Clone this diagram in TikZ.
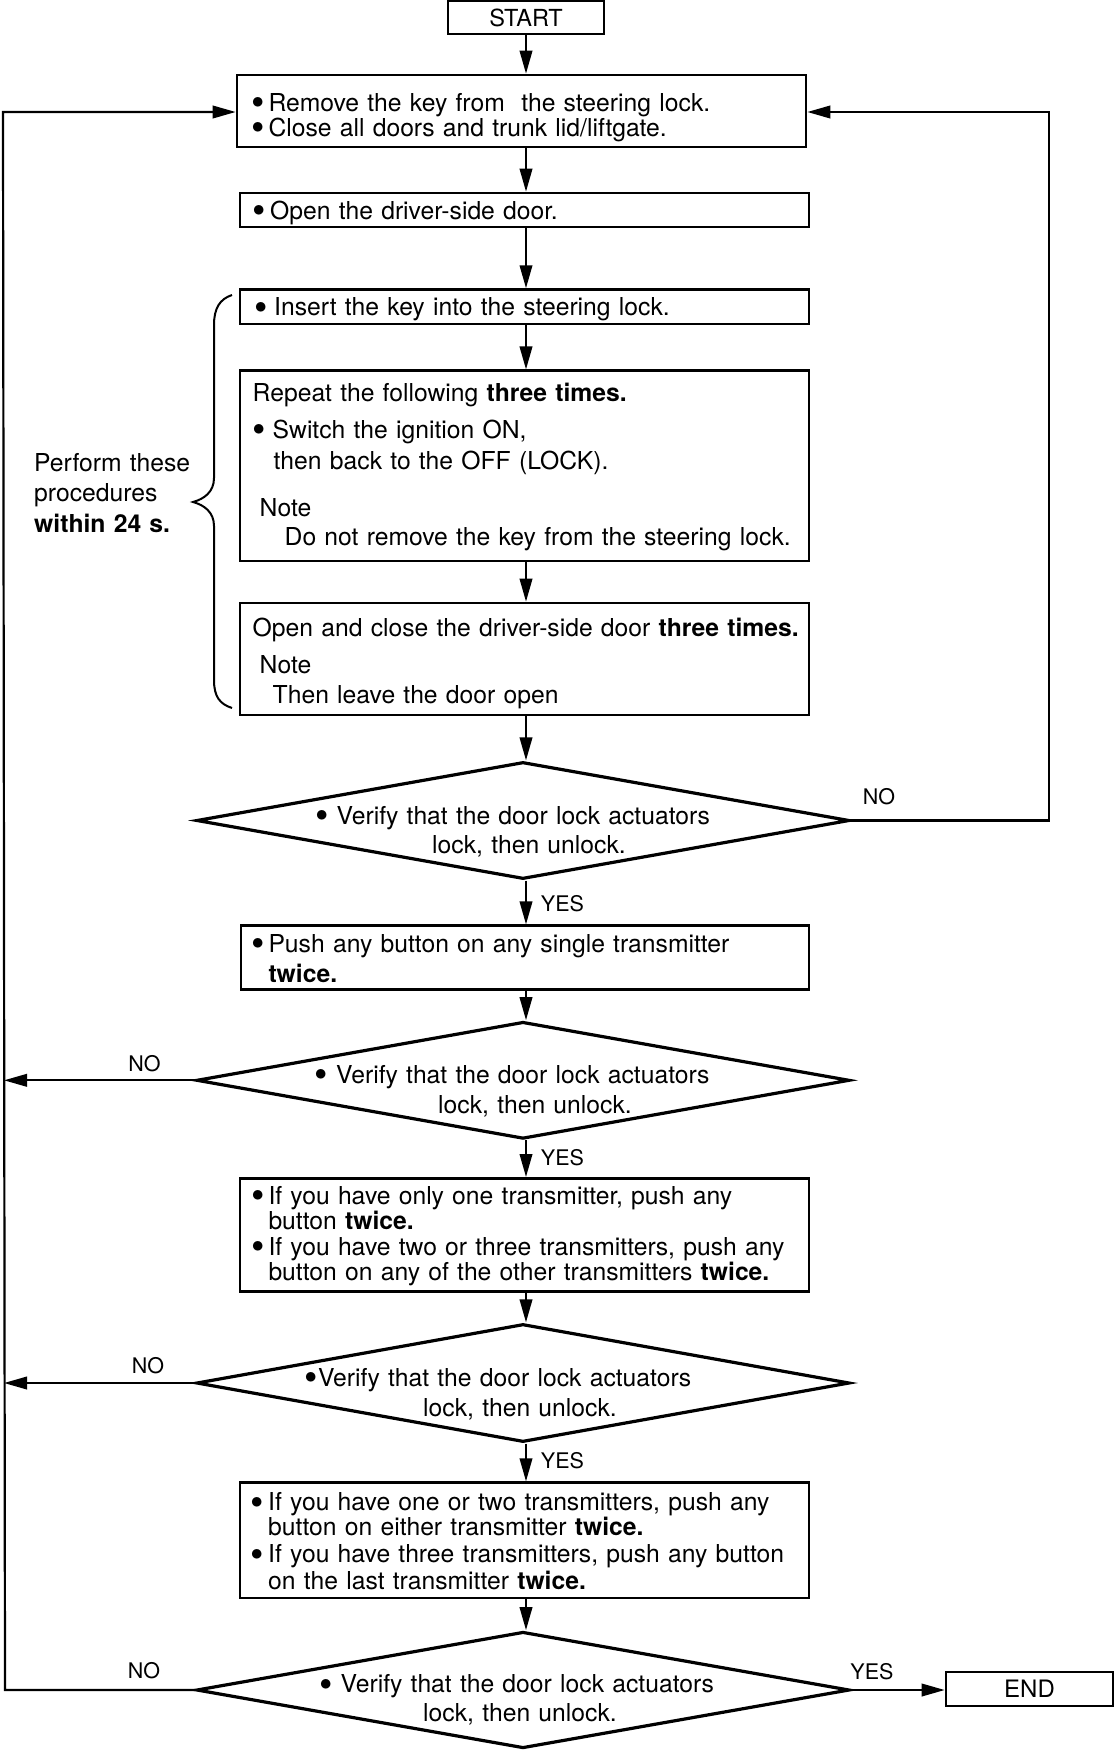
\documentclass[tikz,border=0pt]{standalone}
\usepackage{fontspec}
\usepackage{graphicx}
\setmainfont{TeX Gyre Heros}
\usetikzlibrary{shapes.geometric,arrows.meta}
\newcommand{\bdot}{\smash{\raisebox{-4.4pt}{\scalebox{1.55}{•}}}}
\newcommand{\bu}{\makebox[17.5pt][l]{\bdot}}
\newcommand{\bw}{\makebox[20pt][l]{\bdot}}
\begin{document}
\begin{tikzpicture}[x=1pt,y=-1pt,
  frame/.style={draw, line width=2.6pt, rectangle, inner sep=0pt, minimum width=569pt},
  dia/.style={draw, line width=3.2pt, diamond, inner sep=0pt, minimum width=653pt, minimum height=117pt},
  txt/.style={anchor=base west, inner sep=0pt, text width=600pt, align=left, font=\fontsize{24.7}{25}\selectfont},
  dtxt/.style={anchor=base, inner sep=0pt, text width=560pt, align=center, font=\fontsize{24.7}{25}\selectfont},
  lbl/.style={inner sep=0pt, font=\fontsize{21.5}{22}\selectfont},
  arr/.style={line width=2.2pt, -{Triangle[length=23pt,width=12.5pt]}},
  brace/.style={line width=2pt},
]
\useasboundingbox (0,0) rectangle (1114,1751);

% boxes and text
\node[frame, minimum width=156pt, minimum height=33pt, font=\fontsize{23.5}{24}\selectfont] (st) at (526,17.5) {START};

\node[frame, minimum height=72pt] (b1) at (521.5,111) {};
\node[txt] (t1) at (250.8,111) {\bu Remove the key from\ \ the steering lock.\\ \bu Close all doors and trunk lid/liftgate.};

\node[frame, minimum height=34pt] (b2) at (524.5,210) {};
\node[txt] (t2) at (252.5,219.5) {\bu Open the driver-side door.};

\node[frame, minimum height=34.5pt] (b3) at (524.5,306.8) {};
\node[txt] (t3) at (254,315.7) {\bw Insert the key into the steering lock.};

\node[frame, minimum height=190.3pt] (b4) at (524.5,465.9) {};
\node[txt] (t4) at (252.5,401.7) {Repeat the following \textbf{three times.}\\[11.6pt]
\bw Switch the ignition ON,\\[5.7pt]
\hspace*{21pt}then back to the OFF (LOCK).\\[22pt]
\hspace*{7pt}Note\\[4.7pt]
\hspace*{32pt}Do not remove the key from the steering lock.};

\node[frame, minimum height=112pt] (b5) at (524.5,659) {};
\node[txt] (t5) at (252.5,636) {Open and close the driver-side door \textbf{three times.}\\[12.3pt]
\hspace*{7pt}Note\\[5pt]
\hspace*{20pt}Then leave the door open};

\node[dia] (d1) at (523,820.5) {};
\node[dtxt] (dt1) at (529,824) {\bdot\ Verify that the door lock actuators\hbox to 33pt{}\\[4.5pt] lock, then unlock.};

\node[frame, minimum width=568pt, minimum height=63.6pt] (b6) at (525,957.5) {};
\node[txt] (t6) at (250.8,952.3) {\bu Push any button on any single transmitter\\[5pt]
\hspace*{17.5pt}\textbf{twice.}};

\node[dia] (d2) at (523,1080.3) {};
\node[dtxt] (dt2) at (535,1083.3) {\bdot\ Verify that the door lock actuators\hbox to 46pt{}\\[5pt] lock, then unlock.};

\node[frame, minimum height=113.4pt] (b7) at (524.5,1235) {};
\node[txt] (t7) at (250.8,1204) {\bu If you have only one transmitter, push any\\
\hspace*{17.5pt}button \textbf{twice.}\\[1pt]
\bu If you have two or three transmitters, push any\\
\hspace*{17.5pt}button on any of the other transmitters \textbf{twice.}};

\node[dia, minimum height=118pt] (d3) at (523,1383) {};
\node[dtxt] (dt3) at (520,1386) {\bdot Verify that the door lock actuators\hbox to 44pt{}\\[5.7pt] lock, then unlock.};

\node[frame, minimum height=115.3pt] (b8) at (524.5,1540.3) {};
\node[txt] (t8) at (250.5,1510.7) {\bu If you have one or two transmitters, push any\\
\hspace*{17.5pt}button on either transmitter \textbf{twice.}\\[2pt]
\bu If you have three transmitters, push any button\\[1.3pt]
\hspace*{17.5pt}on the last transmitter \textbf{twice.}};

\node[dia, minimum height=116.5pt] (d4) at (523,1690) {};
\node[dtxt] (dt4) at (520,1692.7) {\bdot\ Verify that the door lock actuators\hbox to 7pt{}\\[4pt] lock, then unlock.};

\node[frame, minimum width=167pt, minimum height=34pt, font=\fontsize{24}{25}\selectfont] (en) at (1029.5,1689) {END};

% brace note
\node[txt] (pt) at (34,471.7) {Perform these\\[5pt] procedures\\[5.5pt] \textbf{within 24 s.}};
\draw[brace] (232,295) .. controls (220,299) and (214,308) .. (214,325) -- (214,478)
  .. controls (214,492) and (204,499) .. (193,502)
  .. controls (204,505) and (214,512) .. (214,526) -- (214,680)
  .. controls (214,697) and (220,704) .. (232,708);

% labels
\node[lbl] (no1) at (879,797) {NO};
\node[lbl] (yes1) at (562.5,904) {YES};
\node[lbl] (no2) at (144.6,1064) {NO};
\node[lbl] (yes2) at (562.5,1158) {YES};
\node[lbl] (no3) at (148,1366) {NO};
\node[lbl] (yes3) at (562.5,1461) {YES};
\node[lbl] (no4) at (144,1671) {NO};
\node[lbl] (yes4) at (872,1672) {YES};

% routing coordinates
\coordinate (cx) at (526,0);
\coordinate (rt) at (1049,112);
\coordinate (rb) at (1049,820.5);
\coordinate (lt) at (3,112);
\coordinate (lb) at (5,1690);
\coordinate (l2) at (4,1080.3);
\coordinate (l3) at (4,1383);

% connectors
\draw[arr] (st.south -| cx) -- (b1.north -| cx);
\draw[arr] (b1.south -| cx) -- (b2.north -| cx);
\draw[arr] (b2.south -| cx) -- (b3.north -| cx);
\draw[arr] (b3.south -| cx) -- (b4.north -| cx);
\draw[arr] (b4.south -| cx) -- (b5.north -| cx);
\draw[arr] (b5.south -| cx) -- (d1.north -| cx);
\draw[arr] (d1.south -| cx) -- (b6.north -| cx);
\draw[arr] (b6.south -| cx) -- (d2.north -| cx);
\draw[arr] (d2.south -| cx) -- (b7.north -| cx);
\draw[arr] (b7.south -| cx) -- (d3.north -| cx);
\draw[arr] (d3.south -| cx) -- (b8.north -| cx);
\draw[arr] (b8.south -| cx) -- (d4.north -| cx);
\draw[arr] (d1.east) -- (rb) -- (rt) -- (b1.east |- rt);
\draw[arr] (d2.west) -- (l2);
\draw[arr] (d3.west) -- (l3);
\draw[arr] (d4.west) -- (lb) -- (lt) -- (b1.west |- lt);
\draw[arr] (d4.east) -- (en.west |- d4.east);
\end{tikzpicture}
\end{document}
